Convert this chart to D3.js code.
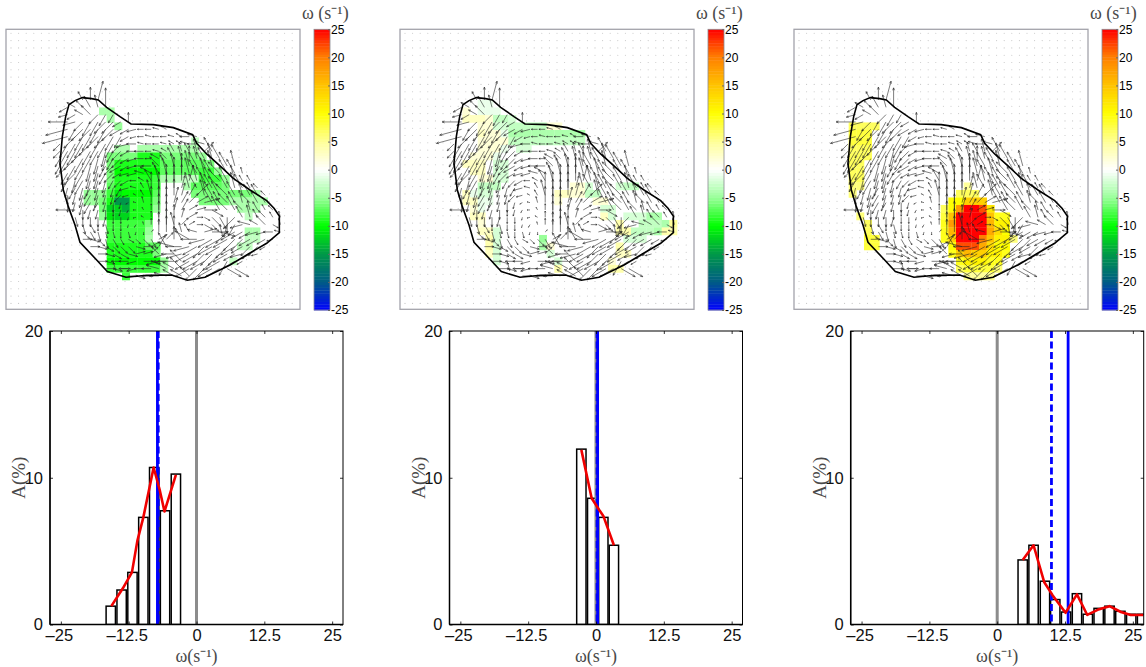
<!DOCTYPE html>
<html><head><meta charset="utf-8">
<script src="https://cdn.jsdelivr.net/npm/d3@7"></script>
<style>body{margin:0;background:#fff}svg{display:block}text{font-family:"Liberation Sans",sans-serif}</style>
</head><body><div id="c"></div>
<script>
// ---------- data ----------
const outline=[[207,314],[225,302],[247,293],[275,296],[295,300],[320,322],[360,350],[393,372],[460,374],[520,383],[578,404],[590,430],[620,462],[660,498],[700,535],[750,570],[800,602],[822,625],[838,648],[838,698],[800,730],[745,762],[690,795],[615,832],[562,841],[515,825],[440,826],[378,832],[322,815],[290,780],[240,727],[225,675],[205,620],[190,570],[180,490],[187,410],[197,350]];
// [row, firstCol, lastCol, vorticity]
const cellsA=[[13,12,13,-4],[14,13,13,-4],[15,14,14,-5],[17,24,24,-3],[18,14,15,-4],[18,17,24,-4],[19,13,16,-6],[19,17,19,-9],[19,20,24,-6],[19,25,25,-5],[20,13,13,-6],[20,14,19,-9],[20,20,25,-7],[20,26,26,-6],[21,13,13,-6],[21,14,19,-10],[21,20,24,-7],[21,25,26,-8],[21,27,27,-5],[22,13,13,-6],[22,14,18,-9],[22,19,19,-8],[22,20,21,-4],[22,22,24,-3],[22,25,27,-8],[22,28,28,-5],[23,13,13,-7],[23,14,18,-9],[23,19,19,-8],[23,23,23,-4],[23,24,27,-7],[23,28,28,-6],[24,10,12,-5],[24,13,13,-8],[24,14,14,-11],[24,15,15,-10],[24,16,18,-10],[24,19,19,-7],[24,24,31,-6],[24,32,32,-4],[25,10,11,-5],[25,12,12,-6],[25,13,13,-9],[25,14,15,-15],[25,16,18,-9],[25,19,19,-6],[25,25,28,-6],[25,29,33,-4],[26,12,12,-6],[26,13,14,-12],[26,15,15,-14],[26,16,18,-9],[26,19,19,-5],[26,30,32,-4],[27,12,12,-5],[27,13,13,-11],[27,14,15,-12],[27,16,18,-9],[27,31,31,-3],[28,13,13,-8],[28,14,17,-8],[28,18,18,-6],[29,13,17,-8],[29,18,18,-5],[29,31,32,-4],[30,13,17,-8],[30,18,18,-4],[30,31,32,-3],[31,13,17,-9],[31,18,19,-7],[31,30,31,-3],[32,13,18,-9],[32,19,19,-6],[33,13,19,-10],[33,20,20,-5],[33,29,29,-3],[34,13,19,-8],[34,20,20,-4],[35,15,15,-8]];
const cellsB=[[12,10,11,-1],[13,8,8,2],[13,10,12,-1],[14,8,10,3],[14,11,11,2],[14,12,13,-3],[14,14,14,-2],[15,10,11,2],[15,12,13,-2],[15,14,18,-3],[15,19,20,2],[16,10,10,3],[16,11,12,2],[16,13,13,-1],[16,14,23,-4],[17,10,13,2],[17,14,16,-3],[17,17,23,-3],[18,10,12,2],[18,13,13,-1],[18,15,16,-2],[19,9,11,2],[19,12,12,-1],[20,8,10,3],[20,12,13,-2],[21,9,10,3],[21,12,13,-2],[22,10,11,2],[22,12,13,-2],[23,10,12,-3],[23,22,23,2],[23,24,24,-2],[23,28,28,-2],[23,29,30,-3],[24,8,8,3],[24,9,9,-1],[24,10,11,-2],[24,20,21,3],[24,22,23,2],[24,24,25,-3],[25,8,9,3],[25,10,11,-1],[25,20,20,2],[25,25,26,2],[26,9,9,2],[26,10,10,-1],[26,26,27,-2],[27,9,10,3],[27,26,26,3],[27,27,27,-2],[27,29,31,-2],[27,32,33,-4],[28,10,10,2],[28,28,28,4],[28,31,33,-3],[28,34,34,-4],[28,35,35,5],[29,10,11,3],[29,12,12,-2],[29,28,29,4],[29,30,32,-3],[29,33,33,-4],[29,34,35,4],[30,11,11,4],[30,12,12,-2],[30,18,18,-5],[30,29,31,-2],[31,11,11,4],[31,12,12,-2],[31,18,18,-4],[31,19,19,2],[31,28,28,4],[32,11,11,3],[32,12,12,-2],[32,19,19,-2],[32,28,29,3],[33,12,12,-2],[33,20,20,-2],[33,27,27,2],[34,20,20,4],[34,27,28,4]];
const cellsC=[[15,7,10,7],[16,7,9,8],[17,7,9,8],[18,7,9,7],[19,7,9,7],[20,7,8,7],[21,7,8,7],[22,7,8,7],[23,7,8,6],[24,7,7,6],[27,8,8,6],[28,9,9,7],[29,9,9,7],[30,9,10,8],[31,9,10,8],[23,22,22,5],[24,21,23,7],[25,20,21,10],[25,22,24,14],[26,19,19,7],[26,20,20,10],[26,21,21,18],[26,22,23,25],[26,24,24,22],[26,25,25,12],[27,19,19,8],[27,20,20,15],[27,21,24,25],[27,25,25,15],[27,26,27,9],[28,19,19,9],[28,20,20,18],[28,21,24,25],[28,25,25,16],[28,26,27,11],[29,19,19,9],[29,20,20,16],[29,21,24,25],[29,25,25,17],[29,26,26,13],[29,27,27,10],[30,19,19,9],[30,20,20,14],[30,21,23,25],[30,24,24,20],[30,25,25,15],[30,26,27,11],[30,28,28,6],[31,20,20,10],[31,21,23,22],[31,24,24,17],[31,25,25,13],[31,26,27,10],[32,20,20,9],[32,21,21,14],[32,22,22,16],[32,23,24,14],[32,25,26,11],[32,27,27,9],[33,21,21,9],[33,22,22,11],[33,23,24,11],[33,25,26,9],[34,21,21,7],[34,22,25,8],[34,26,26,6],[35,22,25,5]];
// velocity field, one string per grid row: heading in 15 degree steps, a=15 ... f=east ... l=south ... r=west ... x=north; and speed digit
const arrowDirs=[
"...vxa",
".ptuvwx",
".qptuonn",
".rqonnoopx",
".qnoonnoppqrrst",
".qonnoonnpqrsrrstrs",
"onnnonnnoqrsrrsttsrs",
"onnonnmnoprrrstvwvwcv",
"nnonnmmnopqrrtuvwxwvwv",
"nonnmmnoppqrruvwxwvvwuvw",
".nonmmnopqqstvwxxwvwvuvvw",
".nmnmmmnoprtvwxxxawvvuvwvv",
".mnmnmmmnqsvxxxxawvwvuvwvvu",
".lmmnmmmoqtvwxxxabcwvvuvwvvu",
".lmmnnmlmpswxxxabcdevvuvwuvv",
"..rlmmllmnrvxxxabdefhvuvuwvvu",
"..klllmllmqtxxxxadfhijlovwvuvw",
"...kjlkllmnwxxxwcdfhikmnqstuhw",
"...ijkkklkmlcxxxwvsefgopppqqrs",
"...fgikjjhiijdcxvtrqpppoopppq",
"....fghiiigfdbvsrqpoppoppoop",
".....fghhgeecuqrqppoooppqpq",
".....fgkrrqfgqrrupppopnpp",
"......fgfrqrrsttupoopphh",
".........fgfrrsttu"];
const arrowSpeeds=[
"...346",
".333446",
".3334443",
".644555533",
".74555554332222",
".855555543222222233",
"35555555443222222333",
"355555544333222333445",
"3555554443332334444455",
"355555444333344445555555",
".45555443333445555555555",
".44554433322455555555555",
".344443333225555455555555",
".33444333212555544555555444",
".33443332112555544455444444",
"..6333322111255443344555433",
"..33333221112554332244554433",
"...3323221112454322334444434",
"...33322221114553334555544433",
"...3333322233334455555555443",
"....33333333345555555555444",
".....333333333445555555443",
".....3333333344555554554",
"......333333344455555555",
".........3333344444"];
const omegaTicks=[25,20,15,10,5,0,-5,-10,-15,-20,-25];
const colourStops=[-25,-20,-15,-10,-5,0,5,10,15,20,25];
const colourValues=["#0000ff","#005c85","#009848","#00ff00","#99ff99","#ffffff","#ffff99","#ffff00","#ffc400","#ff8000","#ff0000"];
const histXTicks=[-25,-12.5,0,12.5,25];
const histYTicks=[0,10,20];
const barsA=[[-15.8,1.25],[-13.8,2.35],[-11.8,3.55],[-9.8,7.3],[-7.8,10.7],[-5.8,7.75],[-3.8,10.25]];
const barsB=[[-2.7,11.95],[-0.7,8.6],[1.35,7.3],[3.3,5.4]];
const barsC=[[4.7,4.4],[6.7,5.4],[8.8,2.95],[10.7,1.7],[12.7,0.85],[14.7,2.1],[16.7,0.7],[18.7,1.1],[20.7,1.25],[22.7,0.9],[24.7,0.7],[26.7,0.7]];
const curveA=[[-15.7,1.25],[-13.6,2.45],[-11.9,3.55],[-10.9,5.7],[-9.8,7.3],[-7.9,10.7],[-6.8,9.2],[-5.9,7.7],[-3.8,10.2]];
const curveB=[[-2.7,11.9],[-0.8,8.6],[0.6,7.8],[1.35,7.4],[3.3,5.4]];
const curveC=[[4.7,4.4],[6.7,5.4],[8.65,2.9],[10.2,2.0],[12.6,0.8],[14.7,2.05],[16.6,0.65],[18.5,1.0],[20.7,1.25],[22.8,0.85],[24.6,0.65],[27,0.65]];
const meanSolid=[-7.2,0.3,13.07];
const meanDashed=[-7.05,0.2,10.0];
const binWidth=1.72;

// ---------- layout ----------
const svg=d3.select("#c").append("svg").attr("width",1146).attr("height",667);
const W=294,H=280;
const xMap=d3.scaleLinear([18,900],[0,W]), yMap=d3.scaleLinear([88,928],[0,H]);
const colour=d3.scaleLinear(colourStops,colourValues);
const cellX=c=>xMap(21+23*c), cellY=r=>yMap(30+22.5*r);
const arrowX=k=>xMap(180+22.8*k), arrowY=r=>yMap(300+22*r);
const speed=d3.scaleLinear([1,8],[3,26]);
const axisFont='"Liberation Serif",serif';
const fmt=v=>(v<0?"\u2013":"")+Math.abs(v);
const defs=svg.append("defs");
defs.append("filter").attr("id","soft").append("feGaussianBlur").attr("stdDeviation",0.5);

function omegaText(sel,size,anchor){
  return sel.append("text").attr("text-anchor",anchor).attr("fill","#4a4a4a")
    .style("font-family",axisFont).style("font-size",size+"px");
}

function drawMap(i,cells){
  const off=[6,400,794][i];
  const g=svg.append("g").attr("transform",`translate(${off},29.3)`);
  g.append("rect").attr("width",W).attr("height",H).attr("fill","#fff").attr("stroke","#a3a3ab").attr("stroke-width",1.3);
  const poly=outline.map(p=>[xMap(p[0]),yMap(p[1])]);
  const dots=d3.cross(d3.range(5,W-2,7.6),d3.range(4,H-2,7.3)).filter(p=>!d3.polygonContains(poly,p));
  g.append("g").selectAll("circle").data(dots).join("circle").attr("cx",d=>d[0]).attr("cy",d=>d[1]).attr("r",0.55).attr("fill","#c4c4c4");
  const spans=cells.flatMap(([r,a,b,v])=>d3.range(a,b+1).map(c=>({r,c,v})));
  g.append("g").attr("filter","url(#soft)").selectAll("rect").data(spans).join("rect")
    .attr("x",d=>cellX(d.c)).attr("y",d=>cellY(d.r)).attr("width",cellX(1)-cellX(0)+0.3).attr("height",cellY(1)-cellY(0)+0.3)
    .attr("fill",d=>colour(d.v));
  const arrows=[];
  arrowDirs.forEach((row,r)=>{[...row].forEach((ch,k)=>{
    if(ch==="."){return;}
    const step="abcdefghijklmnopqrstuvwx".indexOf(ch)+1, ang=step*Math.PI/12;
    arrows.push({x:arrowX(k),y:arrowY(r),a:ang,l:speed(+arrowSpeeds[r][k]||2)});
  });});
  g.append("g").attr("fill","none").attr("stroke","#222").attr("stroke-width",0.65).attr("stroke-opacity",0.9)
    .selectAll("path").data(arrows).join("path").attr("d",d=>{
      const ex=d.x+d.l*Math.sin(d.a), ey=d.y-d.l*Math.cos(d.a), h=Math.min(2.6,d.l*0.25);
      const b1=d.a+Math.PI-0.4,b2=d.a+Math.PI+0.4;
      return `M${d.x},${d.y}L${ex},${ey}M${ex+h*Math.sin(b1)},${ey-h*Math.cos(b1)}L${ex},${ey}L${ex+h*Math.sin(b2)},${ey-h*Math.cos(b2)}`;
    });
  g.append("path").attr("d",d3.line().curve(d3.curveLinearClosed)(poly)).attr("fill","none").attr("stroke","#000").attr("stroke-width",1.6);
  // colour bar
  const cb=g.append("g").attr("transform",`translate(${W+14},0)`);
  const yBar=d3.scaleLinear([-25,25],[H+0.7,0]);
  const levels=d3.range(-25,25,0.5);
  cb.selectAll("rect.l").data(levels).join("rect").attr("class","l").attr("x",0).attr("width",16)
    .attr("y",d=>yBar(d+0.5)).attr("height",yBar(0)-yBar(0.5)+0.4).attr("fill",d=>colour(d+0.25));
  cb.append("rect").attr("width",16).attr("height",H+0.7).attr("fill","none").attr("stroke","#8a8a92").attr("stroke-width",0.8);
  const ax=cb.append("g").attr("transform","translate(16,0)")
    .call(d3.axisRight(yBar).tickValues(omegaTicks).tickSize(-2).tickPadding(3).tickFormat(d=>String(d)));
  ax.select(".domain").remove();
  ax.selectAll("line").attr("stroke","#666");
  ax.selectAll("text").attr("fill","#000").style("font-size","12px").attr("x",1);
  omegaText(cb,18,"start").attr("x",-12).attr("y",-10).text("\u03c9 (s\u207b\u00b9)");
}

function drawHist(i,bars,curve){
  const off=[50,449.5,850.7][i], w=293, h=293.5;
  const g=svg.append("g").attr("transform",`translate(${off},331)`);
  const x=d3.scaleLinear([-27,27],[0,w]), y=d3.scaleLinear([0,20],[h,0]);
  const id="clip"+i;
  g.append("clipPath").attr("id",id).append("rect").attr("width",w).attr("height",h);
  const p=g.append("g").attr("clip-path",`url(#${id})`);
  p.selectAll("rect").data(bars).join("rect").attr("x",d=>x(d[0]-binWidth/2)).attr("y",d=>y(d[1]))
    .attr("width",x(binWidth)-x(0)).attr("height",d=>h-y(d[1])).attr("fill","#fff").attr("stroke","#000").attr("stroke-width",1.5);
  p.append("line").attr("x1",x(0)).attr("x2",x(0)).attr("y1",0).attr("y2",h).attr("stroke","#8c8c8c").attr("stroke-width",3);
  p.append("line").attr("x1",x(meanDashed[i])).attr("x2",x(meanDashed[i])).attr("y1",0).attr("y2",h).attr("stroke","#0000ff").attr("stroke-width",2.8).attr("stroke-dasharray","7 3.5");
  p.append("line").attr("x1",x(meanSolid[i])).attr("x2",x(meanSolid[i])).attr("y1",0).attr("y2",h).attr("stroke","#0000ff").attr("stroke-width",2.8);
  p.append("path").attr("d",d3.line().x(d=>x(d[0])).y(d=>y(d[1]))(curve)).attr("fill","none").attr("stroke","#f00000").attr("stroke-width",2.6).attr("stroke-linejoin","round");
  const style=a=>{a.select(".domain").remove();a.selectAll("line").attr("stroke","#000").attr("stroke-width",0.8);a.selectAll("text").attr("fill","#111").style("font-size","16.5px");};
  const bottom=g.append("g").attr("transform",`translate(0,${h})`).call(d3.axisBottom(x).tickValues(histXTicks).tickSize(-3).tickPadding(5).tickFormat(fmt)).call(style);
  bottom.selectAll("text").attr("dx",d=>d<0?-2:0);
  g.append("g").call(d3.axisTop(x).tickValues(histXTicks).tickSize(-3).tickFormat("")).call(style);
  g.append("g").call(d3.axisLeft(y).tickValues(histYTicks).tickSize(-3).tickPadding(7).tickFormat(d=>d)).call(style);
  g.append("g").attr("transform",`translate(${w},0)`).call(d3.axisRight(y).tickValues(histYTicks).tickSize(-3).tickFormat("")).call(style);
  g.append("rect").attr("width",w).attr("height",h).attr("fill","none").attr("stroke","#000").attr("stroke-width",1);
  g.append("line").attr("x1",0).attr("x2",w).attr("y1",h).attr("y2",h).attr("stroke","#000").attr("stroke-width",1.5);
  g.append("line").attr("x1",0).attr("x2",0).attr("y1",0).attr("y2",h).attr("stroke","#000").attr("stroke-width",1.5);
  omegaText(g,18,"middle").attr("x",x(0)).attr("y",h+37).text("\u03c9(s\u207b\u00b9)");
  g.append("text").attr("transform",`translate(-25,${y(10)}) rotate(-90)`).attr("text-anchor","middle").attr("fill","#4a4a4a")
    .style("font-family",axisFont).style("font-size","19px").text("A(%)");
}

[cellsA,cellsB,cellsC].forEach((c,i)=>drawMap(i,c));
[[barsA,curveA],[barsB,curveB],[barsC,curveC]].forEach(([b,c],i)=>drawHist(i,b,c));
</script></body></html>
